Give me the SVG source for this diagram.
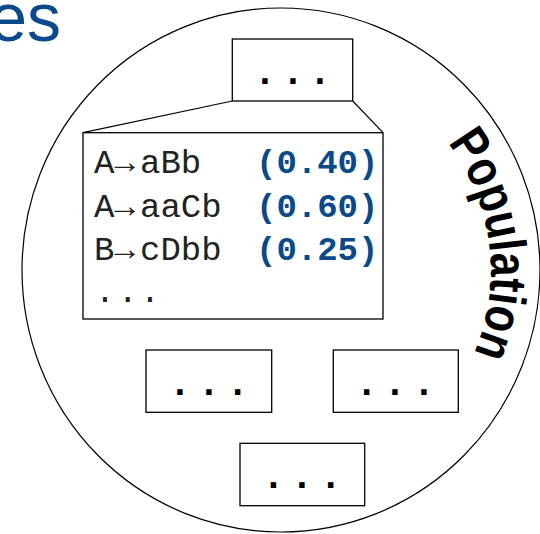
<svg xmlns="http://www.w3.org/2000/svg" width="540" height="534" viewBox="0 0 540 534">
  <style>
    .box { fill: #ffffff; stroke: #000000; stroke-width: 1.3; }
    .ring { fill: none; stroke: #000000; stroke-width: 1.2; }
    .link { fill: none; stroke: #000000; stroke-width: 1.2; }
    .dots { font-family: "Liberation Mono", "Courier New", monospace; font-weight: bold; font-size: 38px; fill: #000000; }
    .rule { font-family: "Liberation Mono", "Courier New", monospace; font-size: 34px; fill: #222222; }
    .prob { font-family: "Liberation Mono", "Courier New", monospace; font-weight: bold; font-size: 34px; fill: #0b4a8a; }
    .title { font-family: "Liberation Sans", Arial, sans-serif; font-size: 68px; fill: #0b4a8a; }
    .pop { font-family: "Liberation Sans", Arial, sans-serif; font-weight: bold; font-size: 52px; fill: #000000; }
  </style>
  <defs>
    <!-- baseline arc for the ring label, clockwise around the ring centre -->
    <path id="popArc" d="M447.6,143 A210,210 0 0 1 463,375"/>
  </defs>

  <rect width="540" height="534" fill="#ffffff"/>

  <!-- heading, running off the left edge -->
  <text class="title" x="61" y="41" text-anchor="end">es</text>

  <!-- population ring -->
  <g id="population">
    <ellipse class="ring" cx="281" cy="270" rx="259" ry="262"/>
    <text class="pop"><textPath href="#popArc" textLength="222" lengthAdjust="spacingAndGlyphs">Population</textPath></text>
  </g>

  <!-- zoom lines from the top individual to its expanded grammar -->
  <g id="connectors">
    <line class="link" x1="232.3" y1="101" x2="83" y2="132.7"/>
    <line class="link" x1="352.7" y1="101" x2="383" y2="132.7"/>
  </g>

  <g id="individual-top">
    <rect class="box" x="232.3" y="39" width="120.4" height="62"/>
    <text class="dots" x="265 293 320" y="84" text-anchor="middle">...</text>
  </g>

  <g id="grammar">
    <rect class="box" x="83" y="132.7" width="300" height="186.3"/>
    <text class="rule" y="173"><tspan x="94">A→</tspan><tspan x="140">aBb</tspan></text>
    <text class="rule" y="216.5"><tspan x="94">A→</tspan><tspan x="140">aaCb</tspan></text>
    <text class="rule" y="260"><tspan x="94">B→</tspan><tspan x="140">cDbb</tspan></text>
    <text class="prob" x="256" y="173">(0.40)</text>
    <text class="prob" x="256" y="216.5">(0.60)</text>
    <text class="prob" x="256" y="260">(0.25)</text>
    <text class="rule" x="105 127.7 150" y="302" text-anchor="middle">...</text>
  </g>

  <g id="individual-left">
    <rect class="box" x="146" y="350" width="125.7" height="62.3"/>
    <text class="dots" x="180 209 237.7" y="395" text-anchor="middle">...</text>
  </g>

  <g id="individual-right">
    <rect class="box" x="333.3" y="350" width="125" height="62.3"/>
    <text class="dots" x="366.7 395 424" y="395" text-anchor="middle">...</text>
  </g>

  <g id="individual-bottom">
    <rect class="box" x="240" y="443.3" width="124.7" height="62.4"/>
    <text class="dots" x="273.3 302 330.7" y="488" text-anchor="middle">...</text>
  </g>
</svg>
